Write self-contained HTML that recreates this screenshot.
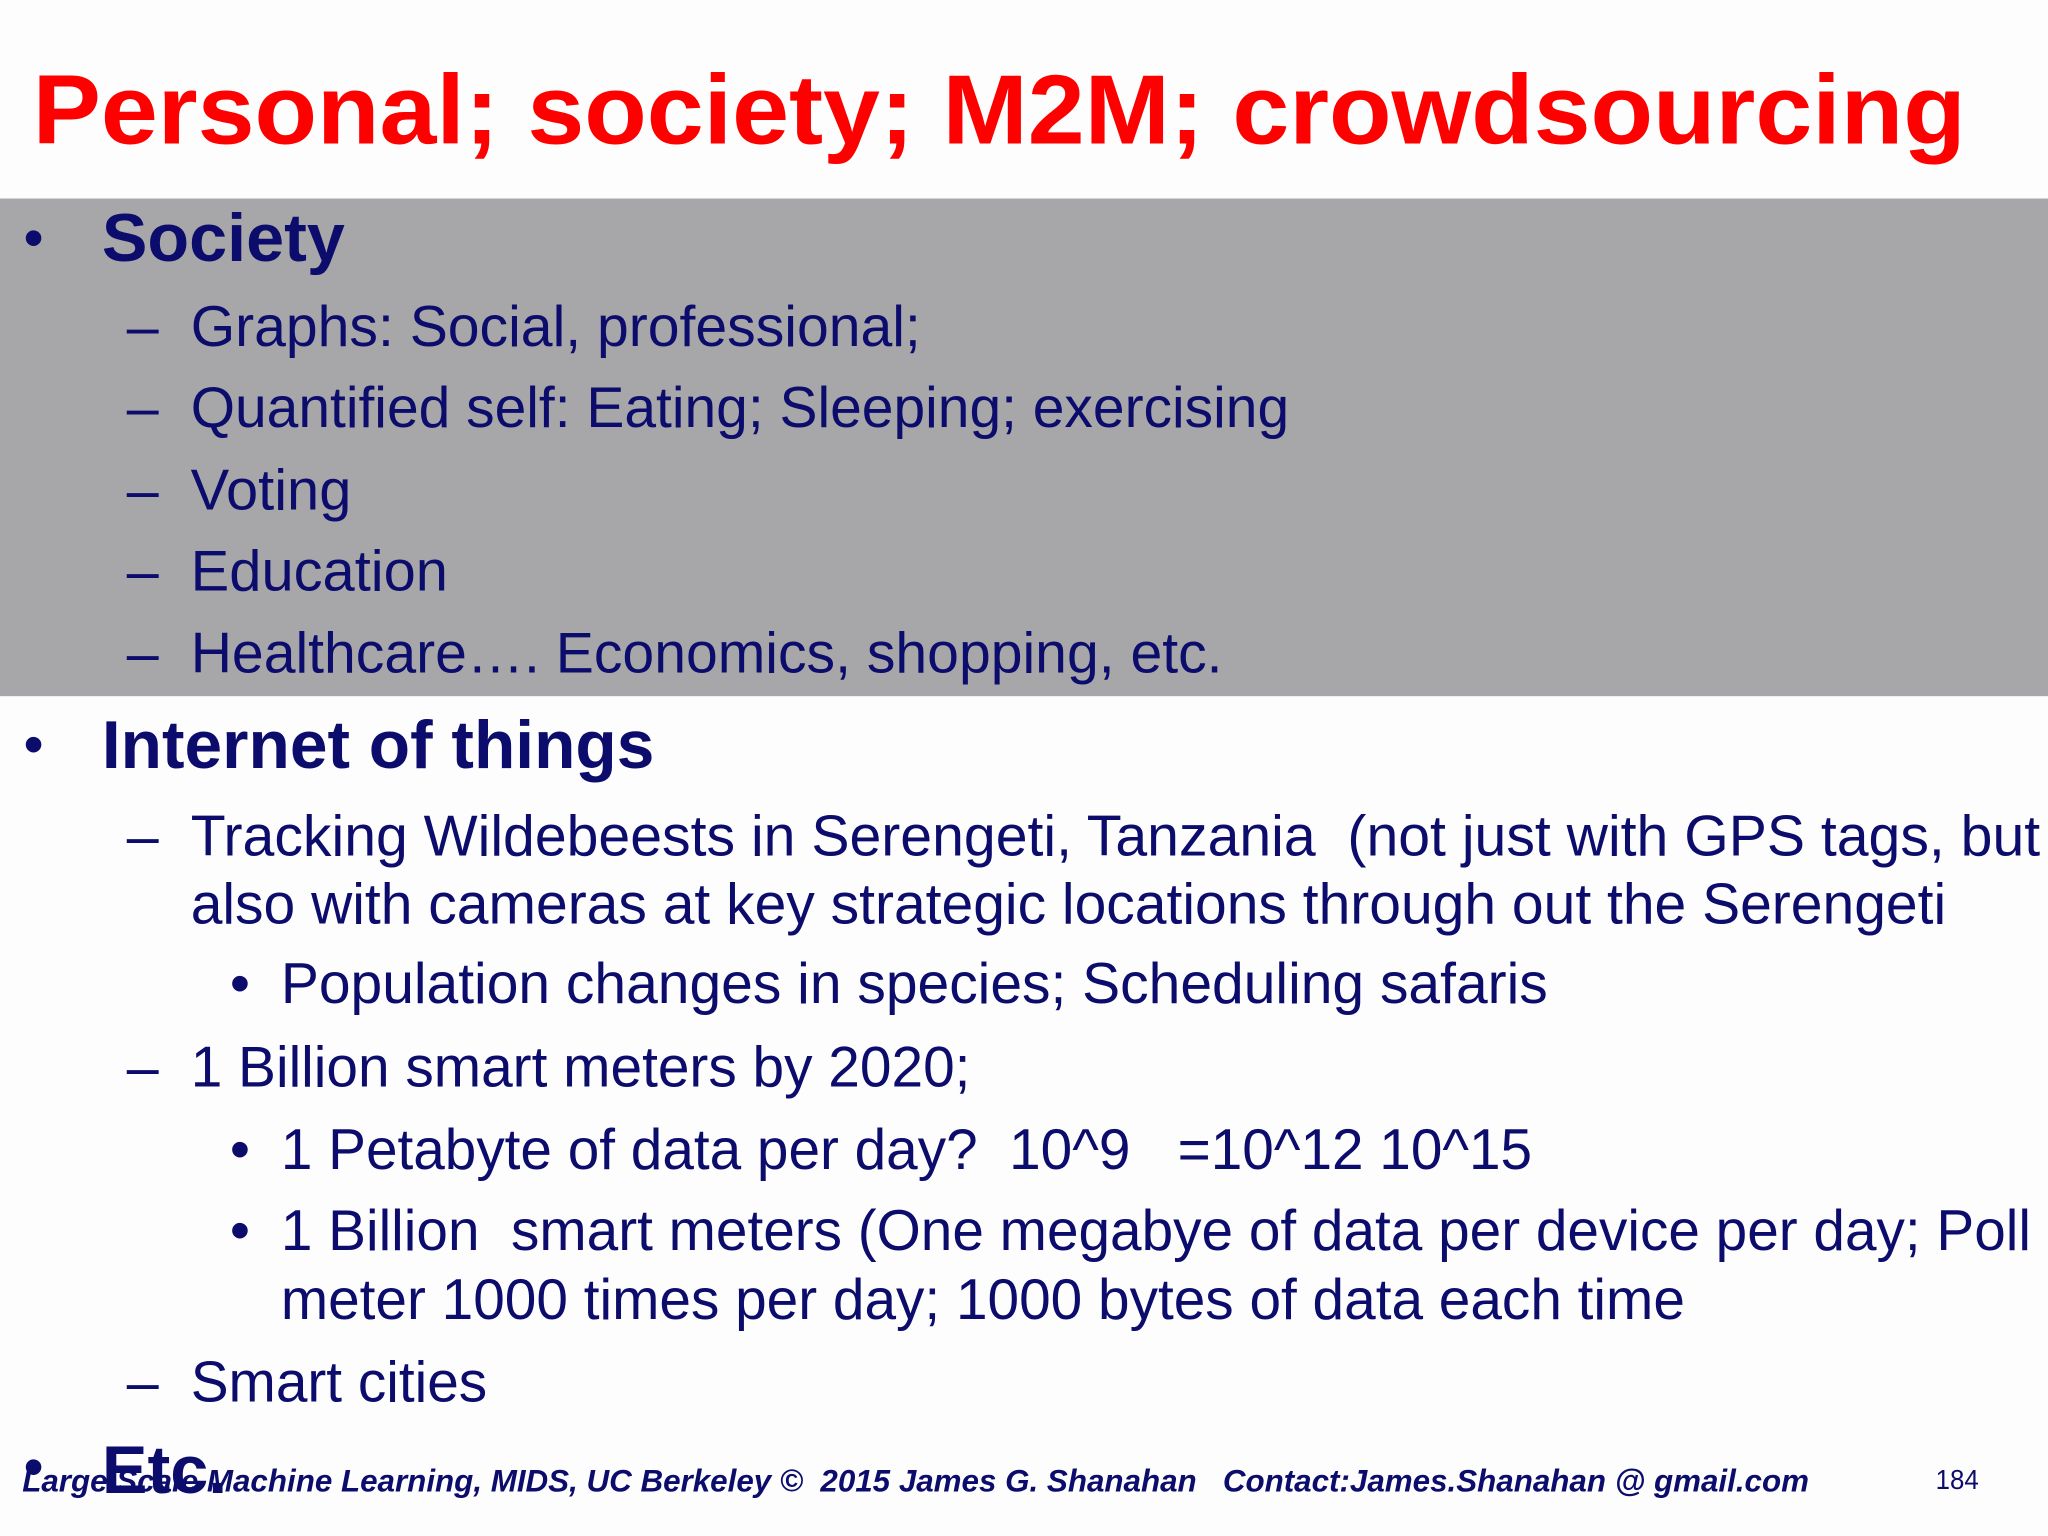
<!DOCTYPE html>
<html><head><meta charset="utf-8"><style>
html,body{margin:0;padding:0;background:#fdfdfd;}
svg{display:block}
svg text{white-space:pre}
</style></head><body>
<svg width="2048" height="1536" viewBox="0 0 1568 1176" xmlns="http://www.w3.org/2000/svg" font-family="Liberation Sans, Arial, sans-serif" xml:space="preserve">
<rect x="0" y="0" width="1568" height="1176" fill="#fdfdfd"/>
<text x="25" y="110" font-size="75" font-weight="bold" fill="#ff0000" textLength="1480" lengthAdjust="spacingAndGlyphs">Personal; society; M2M; crowdsourcing</text>
<rect x="0" y="152" width="1568" height="381" fill="#a7a6a8"/>
<g fill="#0c0c6c">
<text x="18" y="197" font-size="44">•</text>
<text x="78" y="200" font-size="52" font-weight="bold" textLength="186" lengthAdjust="spacingAndGlyphs">Society</text>
<g font-size="44">
<text x="97" y="265">–</text><text x="146" y="265" textLength="559" lengthAdjust="spacingAndGlyphs">Graphs: Social, professional;</text>
<text x="97" y="327">–</text><text x="146" y="327" textLength="841" lengthAdjust="spacingAndGlyphs">Quantified self: Eating; Sleeping; exercising</text>
<text x="97" y="390">–</text><text x="146" y="390" textLength="123" lengthAdjust="spacingAndGlyphs">Voting</text>
<text x="97" y="452">–</text><text x="146" y="452" textLength="197" lengthAdjust="spacingAndGlyphs">Education</text>
<text x="97" y="515">–</text><text x="146" y="515" textLength="790" lengthAdjust="spacingAndGlyphs">Healthcare…. Economics, shopping, etc.</text>
</g>
<text x="18" y="585" font-size="44">•</text>
<text x="78" y="588" font-size="52" font-weight="bold" textLength="423" lengthAdjust="spacingAndGlyphs">Internet of things</text>
<g font-size="44">
<text x="97" y="655">–</text><text x="146" y="655" textLength="1416" lengthAdjust="spacingAndGlyphs">Tracking Wildebeests in Serengeti, Tanzania  (not just with GPS tags, but</text>
<text x="146" y="707" textLength="1344" lengthAdjust="spacingAndGlyphs">also with cameras at key strategic locations through out the Serengeti</text>
<text x="176" y="768">•</text><text x="215" y="768" textLength="970" lengthAdjust="spacingAndGlyphs">Population changes in species; Scheduling safaris</text>
<text x="97" y="832">–</text><text x="146" y="832" textLength="597" lengthAdjust="spacingAndGlyphs">1 Billion smart meters by 2020;</text>
<text x="176" y="895">•</text><text x="215" y="895" textLength="958" lengthAdjust="spacingAndGlyphs">1 Petabyte of data per day?  10^9   =10^12 10^15</text>
<text x="176" y="957">•</text><text x="215" y="957" textLength="1340" lengthAdjust="spacingAndGlyphs">1 Billion  smart meters (One megabye of data per device per day; Poll</text>
<text x="215" y="1010" textLength="1075" lengthAdjust="spacingAndGlyphs">meter 1000 times per day; 1000 bytes of data each time</text>
<text x="97" y="1073">–</text><text x="146" y="1073" textLength="227" lengthAdjust="spacingAndGlyphs">Smart cities</text>
</g>
<text x="18" y="1138" font-size="44">•</text>
<text x="78" y="1143" font-size="52" font-weight="bold" textLength="96" lengthAdjust="spacingAndGlyphs">Etc.</text>
<text x="17" y="1142" font-size="24" font-style="italic" font-weight="bold" textLength="1368" lengthAdjust="spacingAndGlyphs">Large Scale Machine Learning, MIDS, UC Berkeley ©  2015 James G. Shanahan   Contact:James.Shanahan @ gmail.com</text>
<text x="1482" y="1140" font-size="21" textLength="33" lengthAdjust="spacingAndGlyphs">184</text>
</g>
</svg>
</body></html>
